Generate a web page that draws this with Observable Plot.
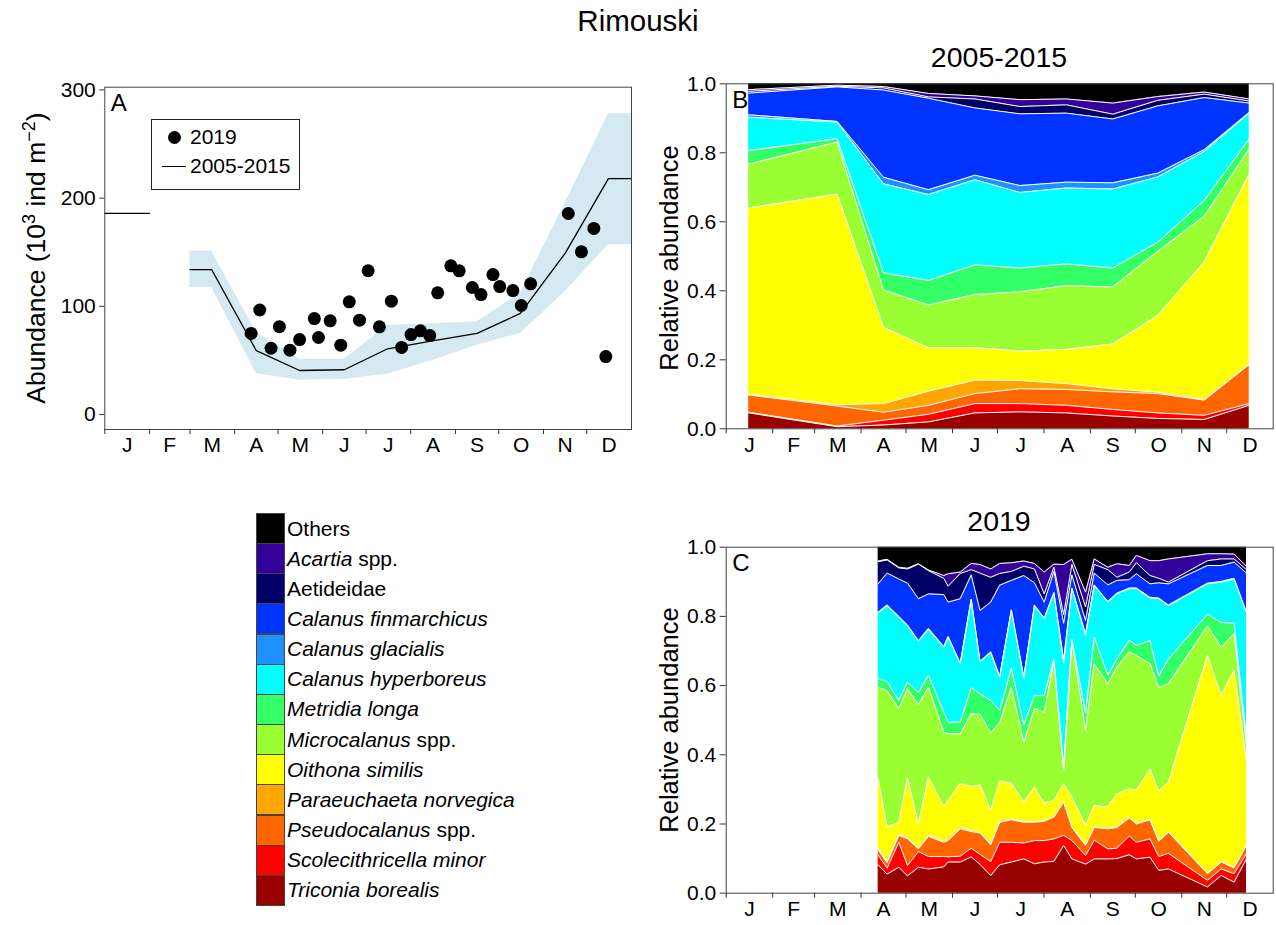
<!DOCTYPE html>
<html>
<head>
<meta charset="utf-8">
<script src="https://cdn.jsdelivr.net/npm/d3@7"></script>
<script src="https://cdn.jsdelivr.net/npm/@observablehq/plot@0.6"></script>
<style>
  body { margin: 0; background: #fff; }
  #fig { position: relative; width: 1276px; height: 925px; overflow: hidden;
         font-family: "Liberation Sans", Arial, Helvetica, sans-serif; color: #000; }
  .abs { position: absolute; }
  .title { position: absolute; text-align: center; white-space: nowrap; }
  .ylab { position: absolute; white-space: nowrap; transform: translate(-50%, -50%) rotate(-90deg); }
  .ylab sup { font-size: 0.68em; vertical-align: 0.55em; line-height: 0; }
  .sw { position: absolute; box-sizing: border-box; border: 1px solid #444; }
  .lt { position: absolute; font-size: 21px; line-height: 30px; white-space: nowrap; }
</style>
</head>
<body>
<div id="fig"></div>
<script>
// ---- calendar ----
const monthLabels = ["J", "F", "M", "A", "M", "J", "J", "A", "S", "O", "N", "D"];
const monthStart = [0, 31, 59, 90, 120, 151, 181, 212, 243, 273, 304, 334];
const monthMid = [15.5, 45, 74.5, 105, 135.5, 166, 196.5, 227.5, 258, 288.5, 319, 349.5];

// ---- A: total abundance (10^3 ind m^-2) ----
const days2019 = [101.4, 107.4, 115.2, 121, 128.3, 135, 145.2, 148.1, 156.2, 163.5, 169.4,
  176.5, 182.5, 190.3, 198.6, 205.7, 212.2, 218.7, 225.2, 230.7, 239.8, 245.6, 254.7,
  260.7, 269, 273.7, 282.8, 288.6, 295.1, 321.2, 330.3, 338.9, 347.2];
const abundance2019 = [75, 96.6, 61.3, 81.2, 59.5, 69.3, 88.7, 71.2, 86.6, 64.1, 104.2,
  87.2, 132.9, 81.1, 104.8, 62, 73.9, 77.4, 73, 112.5, 137.4, 132.8, 117.4,
  110.9, 129.4, 118.3, 114.6, 100.8, 120.8, 185.8, 150.4, 172, 53.6];

// 2005-2015 climatology (NaN = no survey)
const climDay  = [0, 31, 45, 59, 74, 105, 135, 166, 196, 227, 258, 288, 319, 349, 365];
const climMean = [186, 186, NaN, 134, 134, 59, 40.7, 41.4, 60.8, 68, 75, 93.5, 149, 218, 218];
const climLow  = [NaN, NaN, NaN, 117.5, 117.5, 38, 31.7, 32.7, 37.3, 50, 64, 75, 113.4, 157, 157];
const climHigh = [NaN, NaN, NaN, 151, 151, 76, 51, 51, 82.6, 84, 85.7, 112, 195, 278, 278];

// ---- taxa, bottom of the stack first ----
const speciesNames = ["Triconia borealis", "Scolecithricella minor", "Pseudocalanus spp.",
  "Paraeuchaeta norvegica", "Oithona similis", "Microcalanus spp.", "Metridia longa",
  "Calanus hyperboreus", "Calanus glacialis", "Calanus finmarchicus", "Aetideidae",
  "Acartia spp.", "Others"];
const speciesColors = ["#990000", "#ff0000", "#ff6600", "#ffa500", "#ffff00", "#99ff33",
  "#33ff66", "#00ffff", "#1e90ff", "#0033ff", "#000066", "#330099", "#000000"];

// ---- B: 2005-2015 monthly relative abundance ----
const climMonthDay = [15, 74, 105, 135, 166, 196, 227, 258, 288, 319, 349];
const climTri = [.046, .006, .011, .020, .046, .049, .046, .037, .030, .027, .068];
const climSco = [.002, .002, .014, .022, .027, .024, .022, .019, .016, .012, .005];
const climPse = [.050, .058, .023, .026, .029, .043, .046, .051, .056, .044, .113];
const climPar = [.002, .004, .025, .041, .039, .024, .017, .009, .004, .002, .002];
const climOit = [.540, .610, .221, .126, .094, .085, .099, .130, .222, .398, .550];
const climMic = [.127, .151, .108, .124, .154, .172, .185, .165, .186, .133, .073];
const climMet = [.039, .010, .050, .071, .086, .069, .063, .055, .027, .046, .029];
const climChy = [.097, .048, .258, .249, .247, .219, .220, .229, .189, .142, .075];
const climCgl = [.007, .002, .019, .014, .013, .020, .017, .018, .011, .005, .002];
const climCfi = [.063, .100, .253, .265, .195, .208, .200, .185, .195, .151, .027];
const climAet = [.005, .002, .006, .004, .026, .021, .024, .014, .016, .010, .006];
const climAca = [.005, .003, .004, .010, .009, .020, .017, .032, .011, .006, .006];
const climOth = [.017, .004, .008, .028, .035, .046, .044, .056, .037, .024, .044];

// ---- C: 2019 relative abundance per sample ----
const tri2019 = [.082,.055,.075,.050,.075,.070,.076,.090,.090,.105,.083,.051,.082,.090,.099,.085,.090,.092,.138,.099,.084,.099,.099,.100,.111,.099,.104,.066,.070,.018,.051,.032,.099];
const sco2019 = [.028,.017,.072,.030,.045,.036,.030,.015,.017,.025,.029,.040,.065,.057,.046,.067,.062,.065,.029,.053,.025,.054,.029,.030,.054,.048,.053,.040,.045,.019,.019,.024,.015];
const pse2019 = [.015,.016,.020,.077,.008,.058,.041,.047,.079,.048,.062,.049,.058,.065,.060,.053,.056,.063,.096,.038,.029,.037,.058,.060,.052,.053,.055,.044,.061,.019,.020,.017,.024];
const par2019 = [.005,.004,.003,.003,.002,.003,.003,.003,.004,.003,.002,.003,.002,.002,.002,.002,.002,.002,.002,.002,.002,.002,.002,.002,.002,.002,.002,.002,.002,.002,.002,.002,.002];
const oit2019 = [.200,.098,.035,.173,.070,.168,.100,.112,.127,.127,.137,.096,.117,.103,.056,.099,.050,.046,.051,.085,.056,.061,.061,.095,.083,.095,.145,.143,.143,.629,.479,.569,.243];
const mic2019 = [.265,.395,.328,.257,.345,.261,.215,.194,.143,.210,.204,.224,.168,.278,.173,.227,.263,.402,.039,.453,.274,.410,.356,.366,.395,.390,.304,.300,.284,.085,.139,.106,.044];
const met2019 = [.025,.027,.024,.020,.035,.034,.058,.033,.034,.077,.059,.094,.036,.055,.051,.038,.048,.007,.011,.004,.050,.077,.025,.024,.034,.029,.067,.032,.072,.034,.073,.030,.018];
const chy2019 = [.190,.218,.241,.162,.148,.132,.188,.246,.169,.253,.092,.138,.096,.167,.135,.260,.222,.190,.299,.146,.225,.149,.211,.188,.149,.164,.123,.224,.154,.088,.116,.128,.365];
const cgl2019 = [.002,.003,.002,.003,.002,.003,.002,.002,.002,.002,.002,.003,.003,.002,.003,.002,.002,.002,.010,.002,.005,.002,.002,.002,.002,.002,.002,.002,.002,.002,.002,.002,.002];
const cfi2019 = [.082,.092,.108,.121,.121,.100,.150,.099,.186,.070,.147,.143,.263,.085,.293,.064,.046,.061,.105,.038,.038,.034,.048,.037,.024,.041,.039,.044,.061,.051,.046,.047,.113];
const aet2019 = [.064,.038,.032,.041,.100,.067,.047,.046,.073,.015,.108,.072,.034,.026,.027,.040,.024,.012,.025,.030,.039,.025,.044,.009,.022,.032,.024,.013,.005,.014,.019,.009,.010];
const aca2019 = [.002,.002,.002,.002,.001,.002,.008,.036,.004,.018,.025,.024,.029,.025,.015,.016,.063,.009,.145,.015,.043,.016,.007,.039,.019,.021,.043,.051,.067,.020,.015,.014,.010];
const oth2019 = [.040,.035,.058,.061,.048,.066,.082,.077,.072,.047,.050,.063,.047,.045,.040,.047,.072,.049,.050,.035,.130,.034,.058,.048,.053,.024,.039,.039,.034,.019,.019,.020,.055];

// ---- tables ----
const obsRows = days2019.map((d, i) => ({day: d, value: abundance2019[i]}));
const climRows = climDay.map((d, i) => ({day: d, mean: climMean[i], low: climLow[i], high: climHigh[i]}));

function stackRows(days, shares) {
  const rows = [];
  speciesNames.forEach((s, k) => days.forEach((d, i) => rows.push({species: s, day: d, share: shares[k][i]})));
  return rows;
}
const rowsB = stackRows(climMonthDay, [climTri, climSco, climPse, climPar, climOit, climMic,
  climMet, climChy, climCgl, climCfi, climAet, climAca, climOth]);
const rowsC = stackRows(days2019, [tri2019, sco2019, pse2019, par2019, oit2019, mic2019,
  met2019, chy2019, cgl2019, cfi2019, aet2019, aca2019, oth2019]);

// ---- shared styling ----
const fontFam = '"Liberation Sans", Arial, Helvetica, sans-serif';
const baseStyle = {fontFamily: fontFam, fontSize: "21px", color: "black", background: "transparent", overflow: "visible"};
const monthLabel = new Map(monthMid.map((d, i) => [d, monthLabels[i]]));
const monthAxes = () => [
  Plot.axisX(monthStart, {tickSize: 5, tickFormat: () => "", stroke: "#333"}),
  Plot.axisX(monthMid, {tickSize: 0, tickPadding: 8, tickFormat: d => monthLabel.get(d), fontSize: 21})
];
const panelLetter = (t) => Plot.text([t], {text: d => d, frameAnchor: "top-left", textAnchor: "start",
  lineAnchor: "top", dx: 6, dy: 7, fontSize: 24});

const fig = document.getElementById("fig");
function place(node, left, top) {
  const w = document.createElement("div");
  w.className = "abs";
  w.style.left = left + "px";
  w.style.top = top + "px";
  w.appendChild(node);
  fig.appendChild(w);
}
function addText(cls, html, css) {
  const el = document.createElement("div");
  el.className = cls;
  el.innerHTML = html;
  Object.assign(el.style, css);
  fig.appendChild(el);
  return el;
}

// ---- panel A ----
const plotA = Plot.plot({
  width: 640, height: 420,
  marginLeft: 104.3, marginRight: 9, marginTop: 26.7, marginBottom: 51,
  x: {domain: [0, 365], label: null},
  y: {domain: [-13.8, 302.5], label: null},
  style: baseStyle,
  marks: [
    Plot.areaY(climRows, {x: "day", y1: "low", y2: "high", fill: "#d4e9f1"}),
    Plot.line(climRows, {x: "day", y: "mean", stroke: "black", strokeWidth: 1.3}),
    Plot.dot(obsRows, {x: "day", y: "value", r: 6.5, fill: "black"}),
    Plot.frame({stroke: "#444"}),
    Plot.axisY([0, 100, 200, 300], {tickSize: 5, tickPadding: 4, fontSize: 21, stroke: "#333"}),
    ...monthAxes(),
    panelLetter("A")
  ]
});
place(plotA, 0, 60);

// ---- panel B ----
const plotB = Plot.plot({
  width: 636, height: 420,
  marginLeft: 85.7, marginRight: 3.3, marginTop: 23.3, marginBottom: 51.7,
  x: {domain: [0, 365], label: null},
  y: {domain: [0, 1], label: null},
  color: {domain: speciesNames, range: speciesColors},
  style: baseStyle,
  marks: [
    Plot.areaY(rowsB, {x: "day", y: "share", fill: "species"}),
    Plot.lineY(rowsB, Plot.stackY2({x: "day", y: "share", z: "species", stroke: "white",
      strokeWidth: 1, filter: d => d.species !== "Others"})),
    Plot.frame({stroke: "#444"}),
    Plot.axisY([0, 0.2, 0.4, 0.6, 0.8, 1], {tickFormat: d3.format(".1f"), tickSize: 6, tickPadding: 4, fontSize: 21, stroke: "#333"}),
    ...monthAxes(),
    panelLetter("B")
  ]
});
place(plotB, 640, 60);

// ---- panel C ----
const plotC = Plot.plot({
  width: 636, height: 405,
  marginLeft: 85.7, marginRight: 3.3, marginTop: 26.7, marginBottom: 32.3,
  x: {domain: [0, 365], label: null},
  y: {domain: [0, 1], label: null},
  color: {domain: speciesNames, range: speciesColors},
  style: baseStyle,
  marks: [
    Plot.areaY(rowsC, {x: "day", y: "share", fill: "species"}),
    Plot.lineY(rowsC, Plot.stackY2({x: "day", y: "share", z: "species", stroke: "white",
      strokeWidth: 1, filter: d => d.species !== "Others"})),
    Plot.frame({stroke: "#444"}),
    Plot.axisY([0, 0.2, 0.4, 0.6, 0.8, 1], {tickFormat: d3.format(".1f"), tickSize: 6, tickPadding: 4, fontSize: 21, stroke: "#333"}),
    ...monthAxes(),
    panelLetter("C")
  ]
});
place(plotC, 640, 520);

// ---- titles and axis titles ----
addText("title", "Rimouski", {left: "0px", width: "1276px", top: "4px", fontSize: "29.5px", lineHeight: "34px"});
addText("title", "2005-2015", {left: "849px", width: "300px", top: "40px", fontSize: "28.5px", lineHeight: "34px"});
addText("title", "2019", {left: "849px", width: "300px", top: "504px", fontSize: "28.5px", lineHeight: "34px"});
addText("ylab", "Abundance (10<sup>3</sup> ind m<sup>−2</sup>)", {left: "36px", top: "258px", fontSize: "26.5px", lineHeight: "30px"});
addText("ylab", "Relative abundance", {left: "669px", top: "258px", fontSize: "25.5px", lineHeight: "30px"});
addText("ylab", "Relative abundance", {left: "669px", top: "720px", fontSize: "25.5px", lineHeight: "30px"});

// ---- legend inside panel A ----
const boxA = document.createElement("div");
Object.assign(boxA.style, {position: "absolute", left: "151px", top: "119px", width: "149px", height: "71px",
  boxSizing: "border-box", border: "1px solid #222", background: "#fff"});
fig.appendChild(boxA);
const dotKey = document.createElement("div");
Object.assign(dotKey.style, {position: "absolute", left: "167.5px", top: "130.5px", width: "13px", height: "13px",
  borderRadius: "50%", background: "#000"});
fig.appendChild(dotKey);
const lineKey = document.createElement("div");
Object.assign(lineKey.style, {position: "absolute", left: "162px", top: "165.5px", width: "24px", height: "1.3px", background: "#000"});
fig.appendChild(lineKey);
addText("lt", "2019", {left: "190px", top: "122px"});
addText("lt", "2005-2015", {left: "190px", top: "151px"});

// ---- taxa legend (top of stack first) ----
function legendLabel(name) {
  if (name === "Others" || name === "Aetideidae") return name;
  if (name.endsWith(" spp.")) return "<i>" + name.slice(0, -5) + "</i> spp.";
  return "<i>" + name + "</i>";
}
const legendOrder = speciesNames.map((s, i) => i).reverse();
legendOrder.forEach((k, row) => {
  const top = 513 + row * 30.15;
  const sw = document.createElement("div");
  sw.className = "sw";
  Object.assign(sw.style, {left: "256px", top: top + "px", width: "29px", height: "31px", background: speciesColors[k]});
  fig.appendChild(sw);
  addText("lt", legendLabel(speciesNames[k]), {left: "287px", top: (top + 0.5) + "px"});
});
</script>
</body>
</html>
